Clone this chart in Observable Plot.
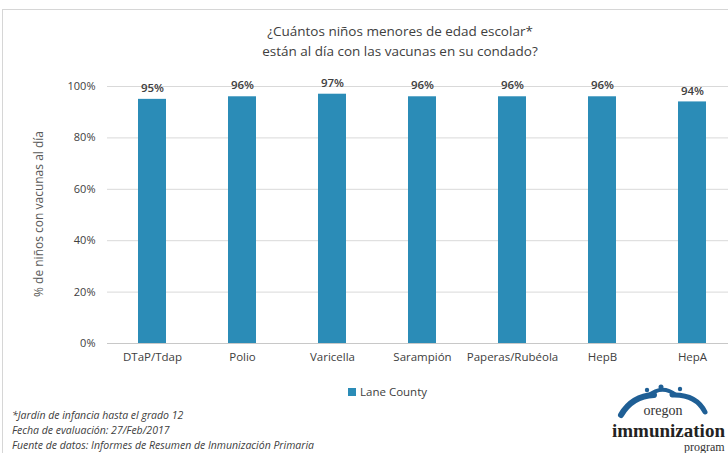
<!DOCTYPE html>
<html>
<head>
<meta charset="utf-8">
<script src="https://cdn.jsdelivr.net/npm/d3@7"></script>
<script src="https://cdn.jsdelivr.net/npm/@observablehq/plot@0.6"></script>
<style>
  html, body { margin: 0; padding: 0; background: #fff; overflow: hidden; }
  #page { position: relative; width: 728px; height: 453px; overflow: hidden; font-family: "Open Sans", sans-serif; color: #404040; }
  #frame { position: absolute; left: 2px; top: 9px; width: 800px; height: 500px; border-top: 1px solid #d6d6d6; border-left: 1px solid #d6d6d6; }
  #title { position: absolute; left: 200px; width: 400px; top: 21px; text-align: center; font-size: 13.5px; line-height: 20px; color: #404040; }
  #chart { position: absolute; left: 0; top: 60px; width: 760px; }
  #chart svg { max-width: none !important; }
  #ylabel { position: absolute; left: 38px; top: 214px; transform: translate(-50%, -50%) rotate(-90deg); white-space: nowrap; font-size: 12px; color: #595959; }
  #legend { position: absolute; left: 348px; top: 384px; font-size: 11.5px; color: #404040; display: flex; align-items: center; gap: 4px; }
  #legend .sw { width: 8px; height: 8px; display: inline-block; }
  #caption { position: absolute; left: 12px; top: 408px; font-size: 10.5px; font-style: italic; line-height: 15px; color: #404040; }
  #logo { position: absolute; left: 608px; top: 384px; width: 120px; height: 70px; }
</style>
</head>
<body>
<div id="page">
  <div id="frame"></div>
  <div id="title">¿Cuántos niños menores de edad escolar*<br>están al día con las vacunas en su condado?</div>
  <div id="chart"></div>
  <div id="ylabel">% de niños con vacunas al día</div>
  <div id="legend"><span class="sw"></span><span id="legendText"></span></div>
  <div id="caption">*Jardín de infancia hasta el grado 12<br>Fecha de evaluación: 27/Feb/2017<br>Fuente de datos: Informes de Resumen de Inmunización Primaria</div>
  <div id="logo">
    <svg width="120" height="70" viewBox="0 0 120 70">
      <path d="M13 31 Q24 12 46 11" fill="none" stroke="#1f5f95" stroke-width="6" stroke-linecap="round"/>
      <path d="M40 12 Q54 0 68 11" fill="none" stroke="#1f5f95" stroke-width="4" stroke-linecap="round"/>
      <path d="M64 11 Q88 10 97 28" fill="none" stroke="#1f5f95" stroke-width="5" stroke-linecap="round"/>
      <circle cx="53" cy="3" r="2.5" fill="#1f5f95"/>
      <circle cx="39" cy="6" r="2.2" fill="#1f5f95"/>
      <circle cx="72" cy="5" r="2.2" fill="#1f5f95"/>
      <text x="55" y="31" text-anchor="middle" font-family="Liberation Serif, serif" font-size="14" fill="#333">oregon</text>
      <text x="4" y="53" font-family="Liberation Serif, serif" font-weight="bold" font-size="19" fill="#222">immunization</text>
      <text x="76" y="67" font-family="Liberation Serif, serif" font-size="12" fill="#333">program</text>
    </svg>
  </div>
</div>
<script>
const vacunas = ["DTaP/Tdap", "Polio", "Varicella", "Sarampión", "Paperas/Rubéola", "HepB", "HepA"];
const valores = [95, 96, 97, 96, 96, 96, 94];
const yTicks = [0, 20, 40, 60, 80, 100];
const serie = "Lane County";
const barColor = "#2b8cb7";

const data = vacunas.map((v, i) => ({vacuna: v, valor: valores[i]}));

document.getElementById("legendText").textContent = serie;
document.querySelector("#legend .sw").style.background = barColor;

const chart = Plot.plot({
  width: 760,
  height: 313,
  marginLeft: 107,
  marginRight: 23,
  marginTop: 26,
  marginBottom: 30,
  style: {fontFamily: "Open Sans, sans-serif", fontSize: "11px", color: "#404040", background: "transparent", maxWidth: "none"},
  x: {domain: vacunas, paddingInner: 0.69, paddingOuter: 0.345, label: null},
  y: {domain: [0, 100], label: null},
  marks: [
    Plot.ruleY(yTicks, {stroke: "#d9d9d9", strokeWidth: 1}),
    Plot.ruleY([0], {stroke: "#c8c8c8", strokeWidth: 1}),
    Plot.barY(data, {x: "vacuna", y: "valor", fill: barColor}),
    Plot.text(data, {x: "vacuna", y: "valor", text: d => d.valor + "%", dy: -11, fill: "#404040", fontSize: 11.5, fontWeight: 600}),
    Plot.axisY({ticks: yTicks, tickFormat: d => d + "%", tickSize: 0, tickPadding: 12, fill: "#404040", fontSize: 11}),
    Plot.axisX({tickSize: 0, tickPadding: 9, fill: "#404040", fontSize: 11.5})
  ]
});
document.getElementById("chart").appendChild(chart);
</script>
</body>
</html>
